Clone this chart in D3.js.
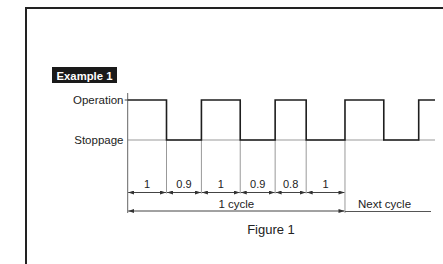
<!DOCTYPE html>
<html><head><meta charset="utf-8">
<script src="https://cdn.jsdelivr.net/npm/d3@7"></script>
<style>body{margin:0;background:#fff;} svg{display:block;font-family:"Liberation Sans",Arial,sans-serif;}</style>
</head><body>
<script>
// Data
const states = ["Operation", "Stoppage"];
const cycleIntervals = [1, 0.9, 1, 0.9, 0.8, 1];        // first cycle (op, stop, op, stop, op, stop)
const signalDurations = [1, 0.9, 1, 0.9, 0.8, 1, 1, 0.9, 0.42]; // alternating op/stop, starting with operation
const cycleLabels = ["1 cycle", "Next cycle"];
const titleLabel = "Example 1";
const figureLabel = "Figure 1";

const W = 443, H = 264;
const svg = d3.select("body").append("svg").attr("width", W).attr("height", H);

const total = d3.sum(signalDurations);
const x = d3.scaleLinear().domain([0, total]).range([127.7, 435]);
const y = d3.scalePoint().domain(states).range([100, 140]);

// Frame
svg.append("path").attr("d", `M26,${H+5} V8 H${W+5}`).attr("fill", "none")
  .attr("stroke", "#222").attr("stroke-width", 2);

// Example label
const lab = svg.append("g");
lab.append("rect").attr("x", 52).attr("y", 67).attr("width", 65).attr("height", 16).attr("fill", "#1a1a1a");
lab.append("text").attr("x", 84.5).attr("y", 79.5).attr("text-anchor", "middle")
  .attr("fill", "#fff").attr("font-weight", "bold").attr("font-size", 11.3).text(titleLabel);

// Defs for arrows
const defs = svg.append("defs");
defs.append("marker").attr("id", "ah").attr("viewBox", "0 0 6 4").attr("refX", 6).attr("refY", 2)
  .attr("markerWidth", 6).attr("markerHeight", 4).attr("markerUnits", "userSpaceOnUse").attr("orient", "auto-start-reverse")
  .append("path").attr("d", "M0,0 L6,2 L0,4 Z").attr("fill", "#333");

// Transition times
const times = [0];
signalDurations.forEach((d, i) => times.push(times[i] + d));
const cycleTimes = [0];
cycleIntervals.forEach((d, i) => cycleTimes.push(cycleTimes[i] + d));
const cycleEnd = cycleTimes[cycleTimes.length - 1];

const yDim = 192.5, yCycle = 211;

// Stoppage baseline (grey)
svg.append("line").attr("x1", x(0)).attr("x2", x(total)).attr("y1", y("Stoppage")).attr("y2", y("Stoppage"))
  .attr("stroke", "#999").attr("stroke-width", 1);

// Extension lines
times.slice(1, times.length - 1).forEach(t => {
  const longer = Math.abs(t - cycleEnd) < 1e-6;
  const inCycle = t <= cycleEnd + 1e-6;
  svg.append("line").attr("x1", x(t)).attr("x2", x(t))
    .attr("y1", y("Stoppage")).attr("y2", longer ? yCycle + 2 : (inCycle ? yDim + 1 : y("Stoppage") + 1))
    .attr("stroke", "#999").attr("stroke-width", 1);
});

// Axis line
svg.append("line").attr("x1", x(0)).attr("x2", x(0)).attr("y1", 93).attr("y2", yCycle + 2)
  .attr("stroke", "#666").attr("stroke-width", 1);
svg.append("line").attr("x1", x(0) - 3).attr("x2", x(0)).attr("y1", y("Operation")).attr("y2", y("Operation"))
  .attr("stroke", "#444").attr("stroke-width", 1);

// State labels
svg.selectAll("text.state").data(states).join("text").attr("class", "state")
  .attr("x", 123.5).attr("y", d => y(d) + 4).attr("text-anchor", "end")
  .attr("font-size", 11.5).attr("fill", "#222").text(d => d);

// Signal line
const pts = [];
signalDurations.forEach((d, i) => {
  const s = i % 2 === 0 ? "Operation" : "Stoppage";
  pts.push([x(times[i]), y(s)]);
  pts.push([x(times[i + 1]), y(s)]);
});
svg.append("path").attr("d", d3.line()(pts)).attr("fill", "none")
  .attr("stroke", "#1e1e1e").attr("stroke-width", 1.6);

// Dimension lines in first cycle
cycleIntervals.forEach((d, i) => {
  const a = x(cycleTimes[i]) + 0.5, b = x(cycleTimes[i + 1]) - 0.5;
  svg.append("line").attr("x1", a).attr("x2", b).attr("y1", yDim).attr("y2", yDim)
    .attr("stroke", "#444").attr("stroke-width", 1)
    .attr("marker-start", "url(#ah)").attr("marker-end", "url(#ah)");
  svg.append("text").attr("x", (x(cycleTimes[i]) + x(cycleTimes[i + 1])) / 2).attr("y", yDim - 4.5)
    .attr("text-anchor", "middle").attr("font-size", 11).attr("fill", "#222").text(d);
});

// Cycle line
svg.append("line").attr("x1", x(0) + 0.5).attr("x2", x(cycleEnd) - 0.5).attr("y1", yCycle).attr("y2", yCycle)
  .attr("stroke", "#444").attr("stroke-width", 1)
  .attr("marker-start", "url(#ah)").attr("marker-end", "url(#ah)");
svg.append("line").attr("x1", x(cycleEnd)).attr("x2", 431).attr("y1", yCycle + 0.5).attr("y2", yCycle + 0.5)
  .attr("stroke", "#555").attr("stroke-width", 1);
svg.append("text").attr("x", (x(0) + x(cycleEnd)) / 2).attr("y", yCycle - 3)
  .attr("text-anchor", "middle").attr("font-size", 11.5).attr("fill", "#222").text(cycleLabels[0]);
svg.append("text").attr("x", 358).attr("y", yCycle - 3)
  .attr("font-size", 11.5).attr("fill", "#222").text(cycleLabels[1]);

// Figure caption
svg.append("text").attr("x", 271).attr("y", 234).attr("text-anchor", "middle")
  .attr("font-size", 13).attr("fill", "#222").text(figureLabel);
</script>
</body></html>
